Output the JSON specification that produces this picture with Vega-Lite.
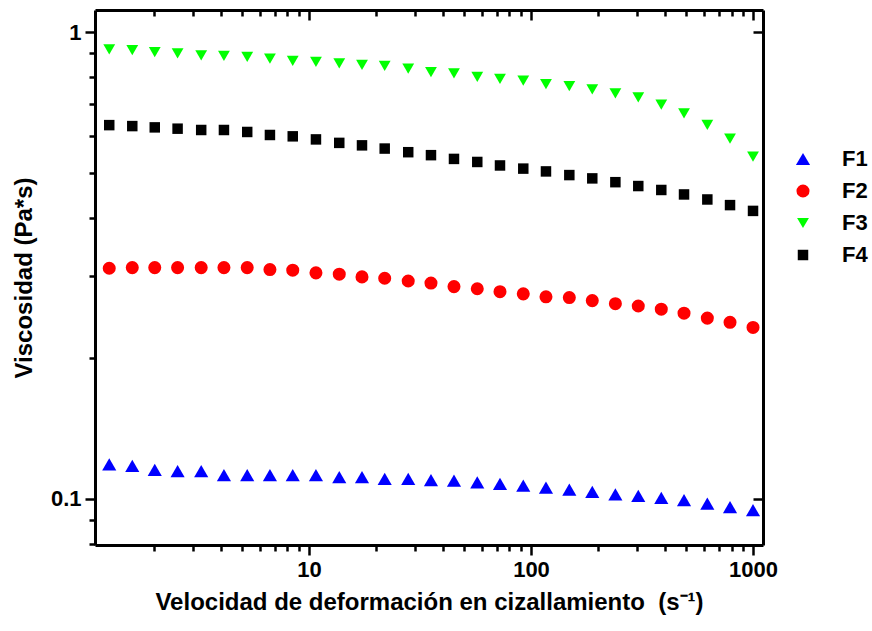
{
  "$schema": "https://vega.github.io/schema/vega-lite/v6.json",
  "width": 668,
  "height": 535,
  "autosize": {"type": "none"},
  "padding": {"left": 95, "top": 10, "right": 109, "bottom": 86},
  "background": "white",
  "config": {"view": {"stroke": null}, "font": "Liberation Sans"},
  "data": {"values": [
    {"serie": "F1", "x": 1.26, "y": 0.1186}, {"serie": "F1", "x": 1.60, "y": 0.1178}, {"serie": "F1", "x": 2.02, "y": 0.1155}, {"serie": "F1", "x": 2.56, "y": 0.1148}, {"serie": "F1", "x": 3.27, "y": 0.1148}, {"serie": "F1", "x": 4.14, "y": 0.1125}, {"serie": "F1", "x": 5.27, "y": 0.1125}, {"serie": "F1", "x": 6.67, "y": 0.1125}, {"serie": "F1", "x": 8.45, "y": 0.1125}, {"serie": "F1", "x": 10.75, "y": 0.1125}, {"serie": "F1", "x": 13.69, "y": 0.1114}, {"serie": "F1", "x": 17.33, "y": 0.1114}, {"serie": "F1", "x": 21.93, "y": 0.1104}, {"serie": "F1", "x": 27.99, "y": 0.1104}, {"serie": "F1", "x": 35.44, "y": 0.1097}, {"serie": "F1", "x": 44.99, "y": 0.1095}, {"serie": "F1", "x": 57.28, "y": 0.1086}, {"serie": "F1", "x": 72.5, "y": 0.1078}, {"serie": "F1", "x": 92.3, "y": 0.1068}, {"serie": "F1", "x": 116.8, "y": 0.1057}, {"serie": "F1", "x": 148.8, "y": 0.1047}, {"serie": "F1", "x": 188.8, "y": 0.1036}, {"serie": "F1", "x": 239.9, "y": 0.1023}, {"serie": "F1", "x": 304.2, "y": 0.1016}, {"serie": "F1", "x": 386.2, "y": 0.1006}, {"serie": "F1", "x": 488.9, "y": 0.0994}, {"serie": "F1", "x": 622.6, "y": 0.0977}, {"serie": "F1", "x": 787.8, "y": 0.0961}, {"serie": "F1", "x": 1000, "y": 0.0946},
    {"serie": "F2", "x": 1.26, "y": 0.312}, {"serie": "F2", "x": 1.60, "y": 0.313}, {"serie": "F2", "x": 2.02, "y": 0.313}, {"serie": "F2", "x": 2.56, "y": 0.313}, {"serie": "F2", "x": 3.27, "y": 0.313}, {"serie": "F2", "x": 4.14, "y": 0.313}, {"serie": "F2", "x": 5.27, "y": 0.313}, {"serie": "F2", "x": 6.67, "y": 0.310}, {"serie": "F2", "x": 8.45, "y": 0.309}, {"serie": "F2", "x": 10.75, "y": 0.305}, {"serie": "F2", "x": 13.69, "y": 0.303}, {"serie": "F2", "x": 17.33, "y": 0.299}, {"serie": "F2", "x": 21.93, "y": 0.297}, {"serie": "F2", "x": 27.99, "y": 0.293}, {"serie": "F2", "x": 35.44, "y": 0.290}, {"serie": "F2", "x": 44.99, "y": 0.285}, {"serie": "F2", "x": 57.28, "y": 0.282}, {"serie": "F2", "x": 72.5, "y": 0.278}, {"serie": "F2", "x": 92.3, "y": 0.275}, {"serie": "F2", "x": 116.8, "y": 0.271}, {"serie": "F2", "x": 148.8, "y": 0.270}, {"serie": "F2", "x": 188.8, "y": 0.266}, {"serie": "F2", "x": 239.9, "y": 0.262}, {"serie": "F2", "x": 304.2, "y": 0.259}, {"serie": "F2", "x": 386.2, "y": 0.255}, {"serie": "F2", "x": 488.9, "y": 0.250}, {"serie": "F2", "x": 622.6, "y": 0.244}, {"serie": "F2", "x": 787.8, "y": 0.239}, {"serie": "F2", "x": 1000, "y": 0.233},
    {"serie": "F3", "x": 1.26, "y": 0.918}, {"serie": "F3", "x": 1.60, "y": 0.915}, {"serie": "F3", "x": 2.02, "y": 0.906}, {"serie": "F3", "x": 2.56, "y": 0.900}, {"serie": "F3", "x": 3.27, "y": 0.891}, {"serie": "F3", "x": 4.14, "y": 0.889}, {"serie": "F3", "x": 5.27, "y": 0.885}, {"serie": "F3", "x": 6.67, "y": 0.877}, {"serie": "F3", "x": 8.45, "y": 0.868}, {"serie": "F3", "x": 10.75, "y": 0.863}, {"serie": "F3", "x": 13.69, "y": 0.857}, {"serie": "F3", "x": 17.33, "y": 0.851}, {"serie": "F3", "x": 21.93, "y": 0.846}, {"serie": "F3", "x": 27.99, "y": 0.835}, {"serie": "F3", "x": 35.44, "y": 0.821}, {"serie": "F3", "x": 44.99, "y": 0.816}, {"serie": "F3", "x": 57.28, "y": 0.802}, {"serie": "F3", "x": 72.5, "y": 0.794}, {"serie": "F3", "x": 92.3, "y": 0.787}, {"serie": "F3", "x": 116.8, "y": 0.774}, {"serie": "F3", "x": 148.8, "y": 0.766}, {"serie": "F3", "x": 188.8, "y": 0.754}, {"serie": "F3", "x": 239.9, "y": 0.739}, {"serie": "F3", "x": 304.2, "y": 0.725}, {"serie": "F3", "x": 386.2, "y": 0.699}, {"serie": "F3", "x": 488.9, "y": 0.670}, {"serie": "F3", "x": 622.6, "y": 0.633}, {"serie": "F3", "x": 787.8, "y": 0.591}, {"serie": "F3", "x": 1000, "y": 0.541},
    {"serie": "F4", "x": 1.26, "y": 0.632}, {"serie": "F4", "x": 1.60, "y": 0.629}, {"serie": "F4", "x": 2.02, "y": 0.625}, {"serie": "F4", "x": 2.56, "y": 0.621}, {"serie": "F4", "x": 3.27, "y": 0.617}, {"serie": "F4", "x": 4.14, "y": 0.617}, {"serie": "F4", "x": 5.27, "y": 0.611}, {"serie": "F4", "x": 6.67, "y": 0.602}, {"serie": "F4", "x": 8.45, "y": 0.598}, {"serie": "F4", "x": 10.75, "y": 0.589}, {"serie": "F4", "x": 13.69, "y": 0.579}, {"serie": "F4", "x": 17.33, "y": 0.572}, {"serie": "F4", "x": 21.93, "y": 0.563}, {"serie": "F4", "x": 27.99, "y": 0.553}, {"serie": "F4", "x": 35.44, "y": 0.545}, {"serie": "F4", "x": 44.99, "y": 0.535}, {"serie": "F4", "x": 57.28, "y": 0.527}, {"serie": "F4", "x": 72.5, "y": 0.518}, {"serie": "F4", "x": 92.3, "y": 0.510}, {"serie": "F4", "x": 116.8, "y": 0.503}, {"serie": "F4", "x": 148.8, "y": 0.494}, {"serie": "F4", "x": 188.8, "y": 0.486}, {"serie": "F4", "x": 239.9, "y": 0.477}, {"serie": "F4", "x": 304.2, "y": 0.468}, {"serie": "F4", "x": 386.2, "y": 0.459}, {"serie": "F4", "x": 488.9, "y": 0.449}, {"serie": "F4", "x": 622.6, "y": 0.438}, {"serie": "F4", "x": 787.8, "y": 0.426}, {"serie": "F4", "x": 1000, "y": 0.414}
  ]},
  "layer": [
    {
      "mark": {"type": "point", "filled": true, "opacity": 1},
      "encoding": {
        "x": {
          "field": "x", "type": "quantitative",
          "scale": {"type": "log", "domain": [1.087, 1109], "nice": false},
          "axis": {
            "orient": "bottom",
            "values": [2, 3, 4, 5, 6, 7, 8, 9, 10, 20, 30, 40, 50, 60, 70, 80, 90, 100, 200, 300, 400, 500, 600, 700, 800, 900, 1000],
            "labelExpr": "datum.value == 10 ? '10' : datum.value == 100 ? '100' : datum.value == 1000 ? '1000' : ''",
            "tickSize": {"condition": {"test": "datum.value == 10 || datum.value == 100 || datum.value == 1000", "value": 10}, "value": 6},
            "tickWidth": 2.5, "tickColor": "black",
            "domainWidth": 3, "domainColor": "black",
            "labelFontSize": 22, "labelFontWeight": "bold", "labelColor": "black", "labelPadding": 4,
            "labelFlush": false, "labelOverlap": false, "grid": false,
            "title": "Velocidad de deformación en cizallamiento\u00a0\u00a0(s⁻¹)",
            "titleFontSize": 24, "titleFontWeight": "bold", "titleColor": "black", "titlePadding": 10
          }
        },
        "y": {
          "field": "y", "type": "quantitative",
          "scale": {"type": "log", "domain": [0.0797, 1.115], "nice": false},
          "axis": {
            "orient": "left",
            "values": [0.08, 0.09, 0.1, 0.2, 0.3, 0.4, 0.5, 0.6, 0.7, 0.8, 0.9, 1],
            "labelExpr": "datum.value == 1 ? '1' : datum.value == 0.1 ? '0.1' : ''",
            "tickSize": {"condition": {"test": "datum.value == 1 || datum.value == 0.1", "value": 10}, "value": 6},
            "tickWidth": 2.5, "tickColor": "black",
            "domainWidth": 3, "domainColor": "black",
            "labelFontSize": 22, "labelFontWeight": "bold", "labelColor": "black", "labelPadding": 4,
            "labelFlush": false, "labelOverlap": false, "grid": false,
            "title": "Viscosidad (Pa*s)",
            "titleFontSize": 24, "titleFontWeight": "bold", "titleColor": "black", "titlePadding": 14
          }
        },
        "color": {
          "field": "serie", "type": "nominal",
          "scale": {"domain": ["F1", "F2", "F3", "F4"], "range": ["#0000ff", "#ff0000", "#00ff00", "#000000"]},
          "legend": {
            "title": null, "orient": "none", "legendX": 697, "legendY": 138,
            "labelFontSize": 22, "labelFontWeight": "bold", "labelColor": "black",
            "labelOffset": 28, "rowPadding": 10, "padding": 0
          }
        },
        "shape": {
          "field": "serie", "type": "nominal",
          "scale": {"domain": ["F1", "F2", "F3", "F4"], "range": ["triangle-up", "circle", "triangle-down", "square"]}
        },
        "size": {
          "field": "serie", "type": "nominal",
          "scale": {"domain": ["F1", "F2", "F3", "F4"], "range": [200, 110, 200, 105]}
        }
      }
    },
    {
      "mark": {"type": "point", "opacity": 0},
      "encoding": {
        "x": {
          "field": "x", "type": "quantitative",
          "axis": {
            "orient": "top",
            "values": [2, 3, 4, 5, 6, 7, 8, 9, 10, 20, 30, 40, 50, 60, 70, 80, 90, 100, 200, 300, 400, 500, 600, 700, 800, 900, 1000],
            "labels": false,
            "tickSize": {"condition": {"test": "datum.value == 10 || datum.value == 100 || datum.value == 1000", "value": -10}, "value": -6},
            "tickWidth": 2.5, "tickColor": "black",
            "domainWidth": 3, "domainColor": "black", "grid": false, "title": null
          }
        },
        "y": {
          "field": "y", "type": "quantitative",
          "axis": {
            "orient": "right",
            "values": [0.1, 1],
            "labels": false,
            "tickSize": -10,
            "tickWidth": 2.5, "tickColor": "black",
            "domainWidth": 3, "domainColor": "black", "grid": false, "title": null
          }
        }
      }
    }
  ],
  "resolve": {"axis": {"x": "independent", "y": "independent"}}
}
